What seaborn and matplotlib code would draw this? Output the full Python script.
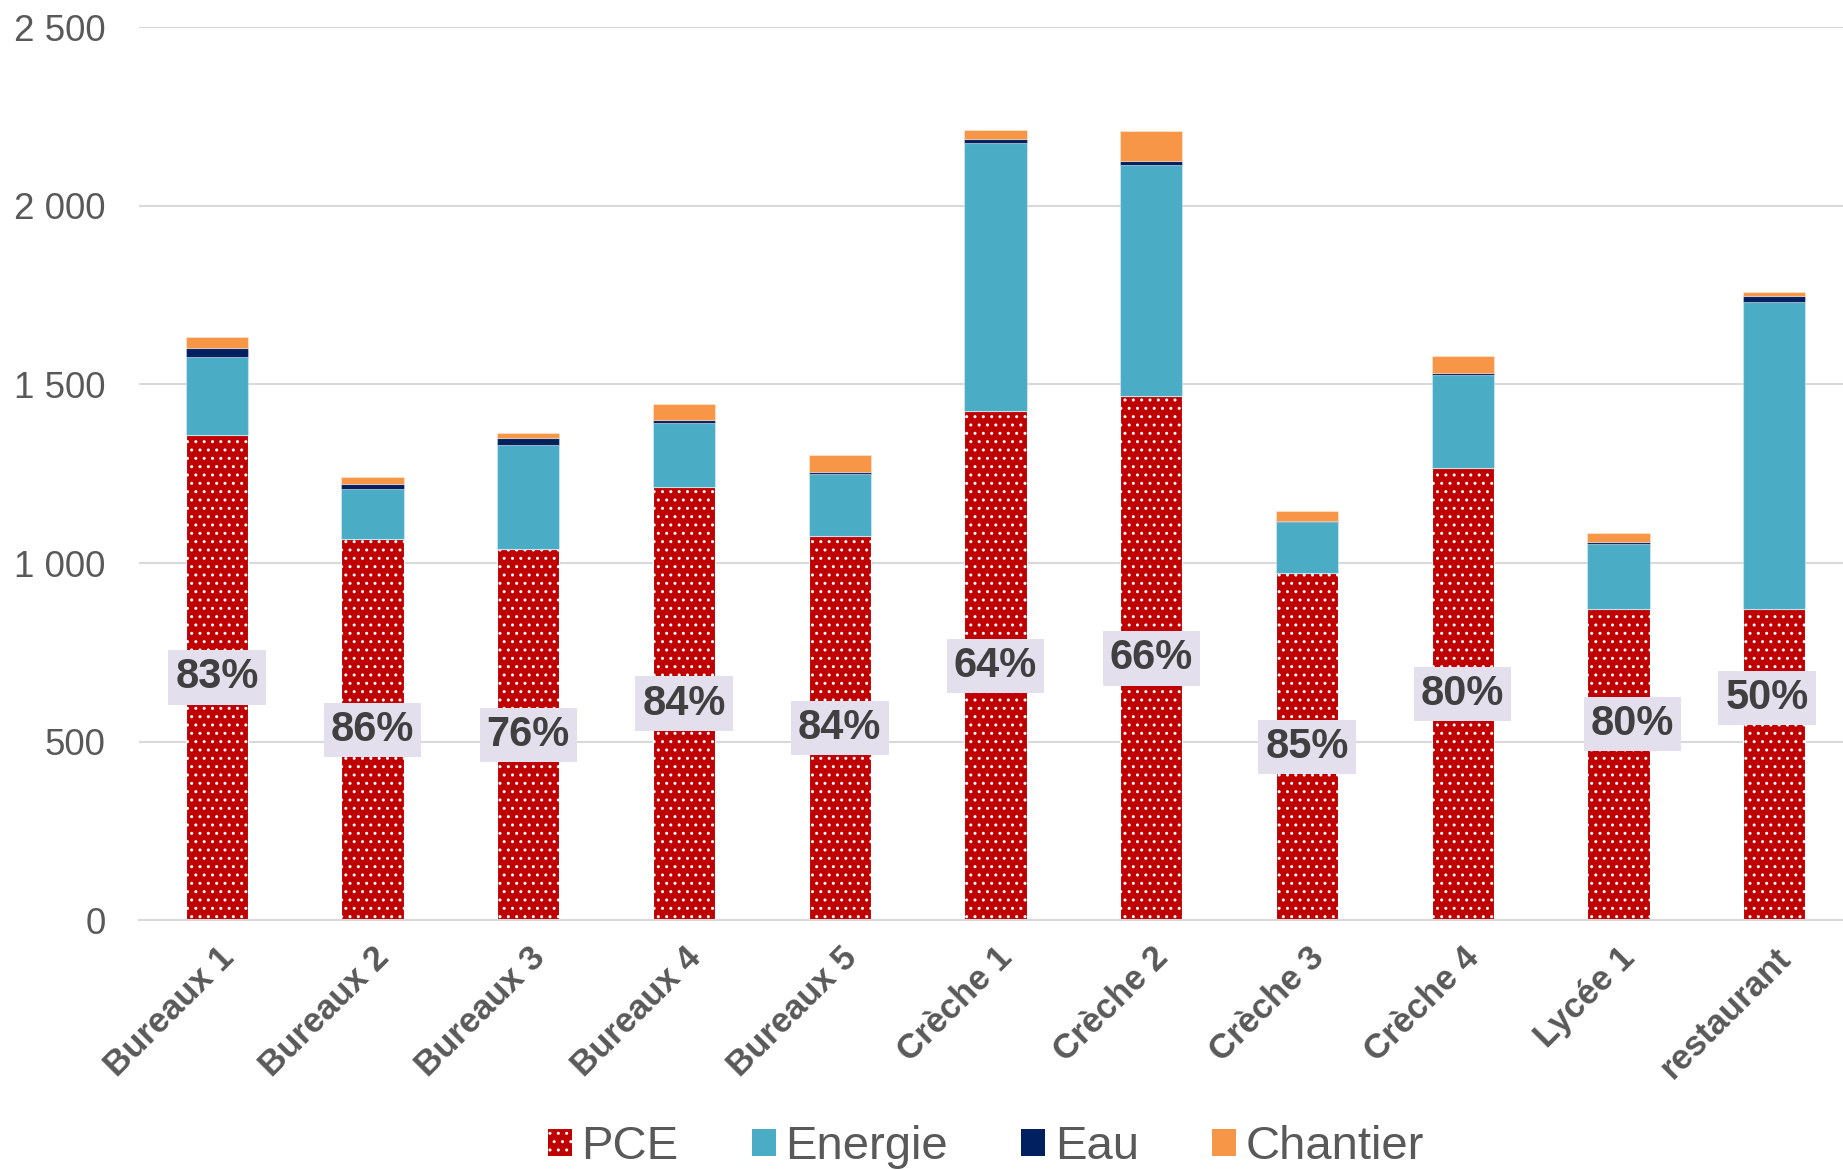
import matplotlib
matplotlib.use("Agg")
import matplotlib.pyplot as plt
from matplotlib.patches import Patch
import numpy as np
import pandas as pd
import seaborn as sns

# --- data -------------------------------------------------------------
categories = ["Bureaux 1", "Bureaux 2", "Bureaux 3", "Bureaux 4", "Bureaux 5",
              "Crèche 1", "Crèche 2", "Crèche 3", "Crèche 4", "Lycée 1", "restaurant"]
pce      = [1359, 1068, 1040, 1214, 1077, 1426, 1467, 972, 1267, 872, 872]
energie  = [218, 139, 291, 178, 172, 750, 648, 144, 260, 182, 859]
eau      = [25, 14, 20, 8, 7, 10, 11, 3, 6, 5, 15]
chantier = [32, 20, 13, 45, 46, 27, 83, 28, 47, 26, 13]
share_labels = ["83%", "86%", "76%", "84%", "84%", "64%", "66%", "85%", "80%", "80%", "50%"]
# vertical anchor (in data units) of each share label
label_y = [680, 534, 520, 607, 538, 713, 733, 486, 633, 550, 623]
label_dx = [0, 0, 0, 0, 0, 0, 0, 0, 0, 0.09, -0.045]

y_ticks = [0, 500, 1000, 1500, 2000, 2500]
y_tick_labels = ["0", "500", "1 000", "1 500", "2 000", "2 500"]

# --- style ------------------------------------------------------------
sns.set_theme(style="white")
plt.rcParams["font.family"] = ["Liberation Sans", "DejaVu Sans"]
plt.rcParams["hatch.color"] = "white"
plt.rcParams["hatch.linewidth"] = 1.0

C_PCE, C_EN, C_EAU, C_CH = "#C00000", "#4BACC6", "#002060", "#F79646"
GREY_TXT = "#595959"
GRID = "#D9D9D9"

fig = plt.figure(figsize=(18.43, 11.70), dpi=100)
ax = fig.add_axes([0.0754, 0.2133, 0.9295, 0.7636])

df = pd.DataFrame({"cat": categories, "PCE": pce, "Energie": energie,
                   "Eau": eau, "Chantier": chantier})

bottom = np.zeros(len(categories))
layers = [("PCE", C_PCE, ".."), ("Energie", C_EN, None),
          ("Eau", C_EAU, None), ("Chantier", C_CH, None)]
for name, col, hatch in layers:
    kws = dict(bottom=bottom.copy(), linewidth=0.8)
    if hatch:
        kws.update(hatch=hatch, edgecolor="white")
    else:
        kws.update(edgecolor=(1, 1, 1, 0.35))
    sns.barplot(data=df, x="cat", y=name, color=col, width=0.4,
                saturation=1, ax=ax, **kws)
    bottom += df[name].to_numpy()

# share labels on the PCE segments
for i, (txt, yv, dx) in enumerate(zip(share_labels, label_y, label_dx)):
    ax.text(i + dx, yv, txt, ha="center", va="center", fontsize=30,
            fontweight="bold", color="#404040", zorder=5,
            bbox=dict(boxstyle="square,pad=0.17", facecolor="#E4DFEC",
                      edgecolor="none"))

# axes
ax.set_xlim(-0.5, len(categories) - 0.5)
ax.set_ylim(0, 2500)
ax.set_yticks(y_ticks)
ax.set_yticklabels(y_tick_labels)
ax.set_xlabel("")
ax.set_ylabel("")
ax.yaxis.grid(True, color=GRID, linewidth=1.5)
ax.xaxis.grid(False)
ax.set_axisbelow(True)
for s in ["top", "right", "left"]:
    ax.spines[s].set_visible(False)
ax.spines["bottom"].set_color(GRID)
ax.spines["bottom"].set_linewidth(1.5)

ax.tick_params(axis="y", length=0, pad=24, labelsize=26.5, labelcolor=GREY_TXT)
ax.tick_params(axis="x", length=0, pad=15, labelsize=25, labelcolor=GREY_TXT)
plt.setp(ax.get_xticklabels(), rotation=45, ha="right", va="top",
         rotation_mode="anchor", fontweight="bold")

# legend
handles = [Patch(facecolor=C_PCE, edgecolor="white", hatch="..", linewidth=0),
           Patch(facecolor=C_EN, linewidth=0),
           Patch(facecolor=C_EAU, linewidth=0),
           Patch(facecolor=C_CH, linewidth=0)]
leg = fig.legend(handles, ["PCE", "Energie", "Eau", "Chantier"],
                 loc="center", bbox_to_anchor=(986 / 1843, 1 - 1147 / 1170),
                 ncol=4, frameon=False, fontsize=34, handlelength=0.51,
                 handleheight=0.51, handletextpad=0.2, columnspacing=1.55,
                 borderpad=0, borderaxespad=0)
for t in leg.get_texts():
    t.set_color(GREY_TXT)

fig.savefig("out.png", dpi=100)
